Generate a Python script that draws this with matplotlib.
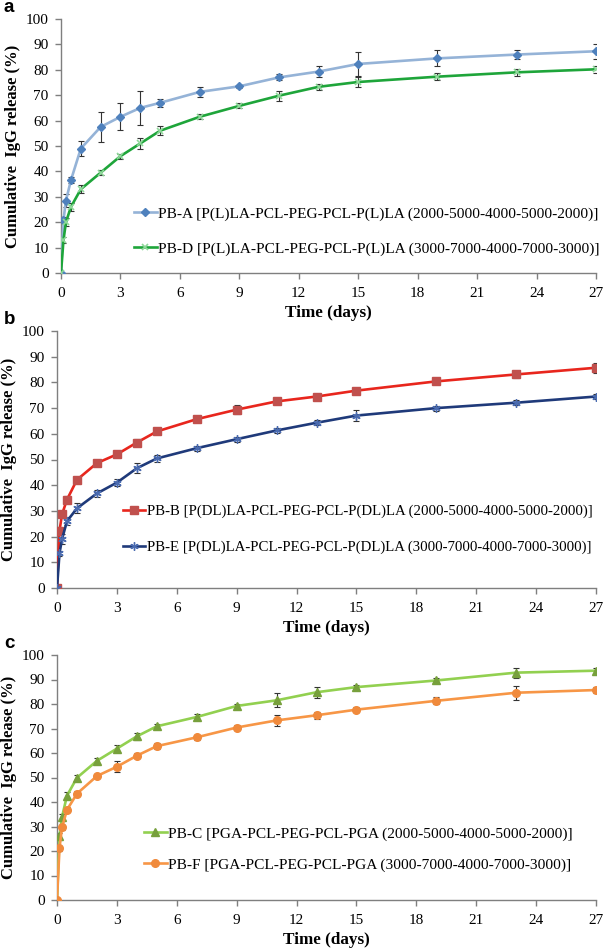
import matplotlib
matplotlib.use("Agg")
import matplotlib.pyplot as plt
import numpy as np

# ---------------- data ----------------
days = [0, 0.125, 0.25, 0.5, 1, 2, 3, 4, 5, 7, 9, 11, 13, 15, 19, 23, 27]
xticks = [0, 3, 6, 9, 12, 15, 18, 21, 24, 27]
yticks = [0, 10, 20, 30, 40, 50, 60, 70, 80, 90, 100]

pba = [0, 21, 28.5, 36.5, 49, 57.5, 61.5, 65, 67, 71.3, 73.5, 77, 79.3, 82.3, 84.5, 86, 87.3]
pba_err = [0, 1, 2.5, 1.2, 3, 6, 5.3, 6.7, 1.5, 2, 0.5, 1.2, 2, 4.8, 3.2, 1.9, 3]
pbd = [0, 13, 20, 26, 33, 39.5, 46, 51, 56, 61.5, 65.8, 69.8, 73.3, 75.2, 77.3, 79, 80.2]
pbd_err = [0, 1, 1.5, 1.5, 1.5, 1, 1, 2.2, 1.8, 1, 1, 2, 1.2, 2, 1.3, 1.3, 1.3]

pbb = [0, 22.3, 28.6, 34.4, 42.1, 48.6, 52, 56.6, 60.9, 65.7, 69.4, 72.6, 74.5, 76.8, 80.4, 83.1, 85.7]
pbb_err = [0, 0.8, 1, 1.5, 1, 1, 0.8, 1.5, 0.8, 0.8, 1.7, 0.8, 0.8, 1, 0.8, 1.5, 2]
pbe = [0, 13.5, 19, 26, 31, 36.8, 41, 46.6, 50.4, 54.4, 57.9, 61.3, 64.3, 67.1, 70, 72.1, 74.5]
pbe_err = [0, 1, 2, 1.5, 2, 1.5, 1.3, 2, 1.3, 1, 1, 1, 1, 2, 1, 1, 1]

pbc = [0, 26, 33.8, 42.6, 49.9, 56.8, 61.8, 66.8, 70.9, 74.7, 79.2, 81.5, 84.8, 86.9, 89.6, 92.8, 93.6]
pbc_err = [0, 1.5, 1.5, 1.3, 1.3, 1.2, 1.4, 1.3, 1, 1.4, 1, 2.8, 2.3, 0.8, 1, 2, 1]
pbf = [0, 21.2, 29.6, 36.8, 43.4, 50.6, 54.4, 58.9, 62.8, 66.4, 70.4, 73.3, 75.4, 77.7, 81.3, 84.6, 85.7]
pbf_err = [0, 1, 1, 1, 1, 1, 2.2, 1, 1.3, 1, 1, 2.2, 1.5, 1, 1.5, 2.8, 1.2]

lab_a = "PB-A [P(L)LA-PCL-PEG-PCL-P(L)LA (2000-5000-4000-5000-2000)]"
lab_d = "PB-D [P(L)LA-PCL-PEG-PCL-P(L)LA (3000-7000-4000-7000-3000)]"
lab_b = "PB-B [P(DL)LA-PCL-PEG-PCL-P(DL)LA (2000-5000-4000-5000-2000)]"
lab_e = "PB-E [P(DL)LA-PCL-PEG-PCL-P(DL)LA (3000-7000-4000-7000-3000)]"
lab_c = "PB-C [PGA-PCL-PEG-PCL-PGA (2000-5000-4000-5000-2000)]"
lab_f = "PB-F [PGA-PCL-PEG-PCL-PGA (3000-7000-4000-7000-3000)]"

SERIF = "Liberation Serif"
SANS = "Liberation Sans"

fig = plt.figure(figsize=(6.09, 9.51), dpi=100)
W, H = 609, 951

def axes_px(x0, x1, y0, y100):
    return fig.add_axes([x0 / W, (H - y0) / H, (x1 - x0) / W, (y0 - y100) / H])

def style(ax):
    ax.set_xlim(0, 27)
    ax.set_ylim(0, 100)
    ax.set_xticks(xticks)
    ax.set_yticks(yticks)
    for s in ["top", "right"]:
        ax.spines[s].set_visible(False)
    for s in ["left", "bottom"]:
        ax.spines[s].set_color("#7f7f7f")
        ax.spines[s].set_linewidth(1.0)
    ax.tick_params(direction="out", length=4, width=1, color="#7f7f7f", labelsize=11)
    ax.tick_params(axis="x", pad=6)
    ax.tick_params(axis="y", pad=5)
    for lbl in ax.get_xticklabels() + ax.get_yticklabels():
        lbl.set_fontfamily(SERIF)
    ax.set_xlabel("Time (days)", fontfamily=SERIF, fontweight="bold", fontsize=12.3, labelpad=4)
    ax.set_ylabel("Cumulative  IgG release (%)", fontfamily=SERIF, fontweight="bold", fontsize=12, labelpad=3)

def series(ax, y, err, lc, mc, marker, ms, label, mew=1.0):
    ax.errorbar(days, y, yerr=err, fmt="none", ecolor="#333333", elinewidth=0.8, capsize=2.5, capthick=0.8, zorder=2)
    ln, = ax.plot(days, y, color=lc, lw=1.9, marker=marker, ms=ms, mfc=mc, mec=mc, mew=mew, label=label, zorder=3)
    return ln

def legend(ax, x, y, spacing, size=11.1):
    ax.legend(loc="center left", bbox_to_anchor=(x, y), frameon=False, numpoints=1,
              prop={"family": SERIF, "size": size}, handlelength=1.5, handletextpad=0.1,
              labelspacing=spacing, borderpad=0, borderaxespad=0)

# panel a
ax1 = axes_px(61, 596, 273, 19)
series(ax1, pba, pba_err, "#95b3d7", "#4f81bd", "D", 4.5, lab_a)
series(ax1, pbd, pbd_err, "#1ea53a", "#8fd89a", "x", 5, lab_d, mew=1.2)
style(ax1)
legend(ax1, 0.136, 0.164, 1.35)

# panel b
ax2 = axes_px(57, 596, 588, 331)
series(ax2, pbb, pbb_err, "#e8261d", "#c0504d", "s", 5.5, lab_b)
series(ax2, pbe, pbe_err, "#1f3a7a", "#4a6bb0", (6, 2, 0), 6, lab_e, mew=1.0)
style(ax2)
legend(ax2, 0.122, 0.228, 1.55, size=10.7)

# panel c
ax3 = axes_px(57, 596, 900, 655)
series(ax3, pbc, pbc_err, "#92d050", "#77a03c", "^", 5.5, lab_c)
series(ax3, pbf, pbf_err, "#f79646", "#f08a3c", "o", 5.5, lab_f)
style(ax3)
legend(ax3, 0.161, 0.206, 1.1)

# panel letters
for txt, yp in [("a", 8), ("b", 320), ("c", 643)]:
    fig.text(4 / W, 1 - yp / H, txt, fontfamily=SANS, fontweight="bold", fontsize=13.5, va="center", ha="left")

fig.savefig("out.png", dpi=100)
